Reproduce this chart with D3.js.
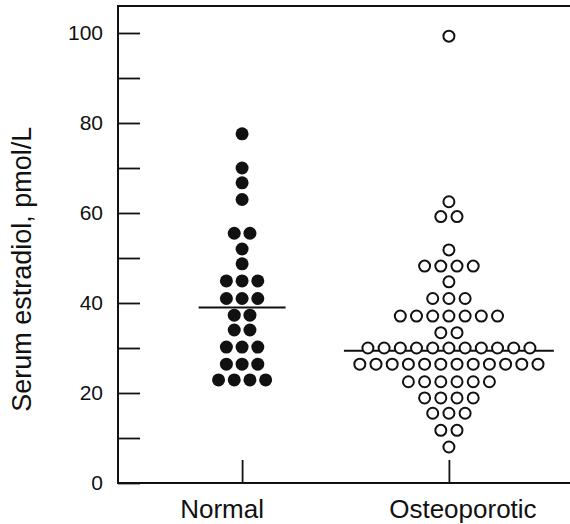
<!DOCTYPE html>
<html>
<head>
<meta charset="utf-8">
<script src="https://cdn.jsdelivr.net/npm/d3@7"></script>
<style>
    body { margin: 0; background: #fff; }
    text { font-family: "Liberation Sans", Arial, sans-serif; fill: #111; }
</style>
</head>
<body>
<script>
// dimensions
let width = 570;
let height = 524;

// categories on the x axis
const groups = ["Normal", "Osteoporotic"];

// one value per dot, pmol/L
const normalValues = [
    77.6, 70, 66.7, 63, 55.5, 55.5, 52, 48.7,
    44.9, 44.9, 44.9, 41, 41, 41, 37.3, 37.3,
    34, 34, 30.2, 30.2, 30.2, 26.4, 26.4, 26.4,
    22.9, 22.9, 22.9, 22.9
];
const osteoValues = [
    99.3, 62.5, 59.2, 59.2, 51.8, 48.2, 48.2, 48.2, 48.2, 44.7,
    41, 41, 41, 37.1, 37.1, 37.1, 37.1, 37.1, 37.1, 37.1,
    33.4, 33.4,
    30, 30, 30, 30, 30, 30, 30, 30, 30, 30, 30,
    26.4, 26.4, 26.4, 26.4, 26.4, 26.4, 26.4, 26.4, 26.4, 26.4, 26.4, 26.4,
    22.5, 22.5, 22.5, 22.5, 22.5, 22.5,
    18.9, 18.9, 18.9, 18.9, 15.5, 15.5, 15.5, 11.7, 11.7, 8
];

// group means, drawn as horizontal bars
const means = [39, 29.4];

// y ticks
const yTicks = [0, 10, 20, 30, 40, 50, 60, 70, 80, 90, 100];
const yLabels = [0, 20, 40, 60, 80, 100];

const margin = {
    top: 6,
    bottom: 41,
    left: 118,
    right: 0
};

let svg = d3.select("body")
    .append("svg")
    .attr("width", width)
    .attr("height", height);

let x = d3.scalePoint()
    .domain(groups)
    .range([margin.left, width + 3])
    .padding(0.6);

let y = d3.scaleLinear()
    .domain([0, 106])
    .range([height - margin.bottom, margin.top]);

// per group drawing style
const styles = [
    { fill: "#111", stroke: "none", strokeWidth: 0, r: 6.5, step: 15.7, half: 43.5, labelShift: -20 },
    { fill: "#fff", stroke: "#111", strokeWidth: 2, r: 5.5, step: 16.2, half: 105, labelShift: 14 }
];

// frame: top, left and bottom lines
let frame = svg.append("g")
    .attr("stroke", "#111")
    .attr("stroke-width", 2)
    .attr("fill", "none");
frame.append("path")
    .attr("d", "M" + width + "," + y(106) + "H" + margin.left + "V" + y(0) + "H" + width);

// y axis, ticks pointing inwards
let yAxis = d3.axisLeft(y)
    .tickValues(yTicks)
    .tickSizeInner(-22)
    .tickSizeOuter(0)
    .tickPadding(15)
    .tickFormat(function(d) {
        return yLabels.indexOf(d) >= 0 ? d : "";
    });

let yg = svg.append("g")
    .attr("transform", "translate(" + margin.left + ",0)")
    .call(yAxis);
yg.select(".domain").remove();
yg.selectAll("line").attr("stroke", "#111").attr("stroke-width", 1.8);
yg.selectAll("text")
    .style("font-size", "21px")
    .attr("fill", "#111");

// x axis, ticks pointing up
let xAxis = d3.axisBottom(x)
    .tickSizeInner(-23)
    .tickSizeOuter(0)
    .tickFormat("");

let xg = svg.append("g")
    .attr("transform", "translate(0," + y(0) + ")")
    .call(xAxis);
xg.select(".domain").remove();
xg.selectAll("line").attr("stroke", "#111").attr("stroke-width", 1.8);

// category labels
svg.selectAll(".cat")
    .data(groups)
    .enter()
    .append("text")
    .attr("class", "cat")
    .attr("x", function(d, i) {
        return x(d) + styles[i].labelShift;
    })
    .attr("y", y(0) + 35)
    .attr("text-anchor", "middle")
    .style("font-size", "26px")
    .text(function(d) {
        return d;
    });

// y axis title
svg.append("text")
    .attr("transform", "translate(31," + y(47.5) + ") rotate(-90)")
    .attr("text-anchor", "middle")
    .style("font-size", "27px")
    .text("Serum estradiol, pmol/L");

// lay dots out in rows, each row centred on its category
function layout(values, gi) {
    let rows = d3.groups(values, function(v) { return v; });
    let dots = [];
    rows.forEach(function(row) {
        let n = row[1].length;
        row[1].forEach(function(v, i) {
            dots.push({
                value: v,
                cx: x(groups[gi]) + (i - (n - 1) / 2) * styles[gi].step,
                cy: y(v)
            });
        });
    });
    return dots;
}

[normalValues, osteoValues].forEach(function(values, gi) {
    let s = styles[gi];

    // mean line under the dots
    svg.append("line")
        .attr("x1", x(groups[gi]) - s.half)
        .attr("x2", x(groups[gi]) + s.half)
        .attr("y1", y(means[gi]))
        .attr("y2", y(means[gi]))
        .attr("stroke", "#111")
        .attr("stroke-width", 2);

    svg.append("g")
        .selectAll("circle")
        .data(layout(values, gi))
        .enter()
        .append("circle")
        .attr("cx", function(d) { return d.cx; })
        .attr("cy", function(d) { return d.cy; })
        .attr("r", s.r)
        .attr("fill", s.fill)
        .attr("stroke", s.stroke)
        .attr("stroke-width", s.strokeWidth);
});
</script>
</body>
</html>
